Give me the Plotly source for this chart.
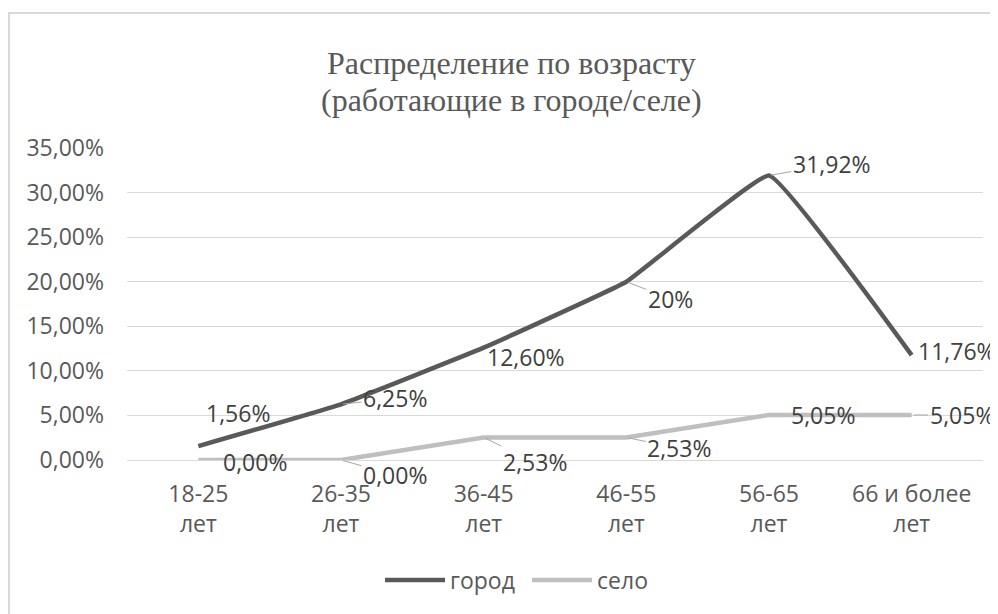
import plotly.graph_objects as go

# ---- data ----
categories = ["18-25 лет", "26-35 лет", "36-45 лет", "46-55 лет", "56-65 лет", "66 и более лет"]
tick_text = ["18-25<br>лет", "26-35<br>лет", "36-45<br>лет", "46-55<br>лет", "56-65<br>лет", "66 и более<br>лет"]
gorod = [0.0156, 0.0625, 0.1260, 0.20, 0.3192, 0.1176]
selo = [0.0, 0.0, 0.0253, 0.0253, 0.0505, 0.0505]
gorod_labels = ["1,56%", "6,25%", "12,60%", "20%", "31,92%", "11,76%"]
selo_labels = ["0,00%", "0,00%", "2,53%", "2,53%", "5,05%", "5,05%"]
y_ticks = [0, 0.05, 0.10, 0.15, 0.20, 0.25, 0.30, 0.35]
title_lines = ["Распределение по возрасту", "(работающие в городе/селе)"]

# ---- label placement (pixel offsets, leader flag) ----
gorod_off = [(40, -33, False), (54, -6, True), (42, 9, False), (44, 17, True), (63, -11, True), (45, -4, False)]
selo_off = [(57, 2, False), (54, 15, True), (51, 25, True), (53, 11, True), (54, 0, False), (50, 0, True)]

DARK = "#595959"
LIGHT = "#bfbfbf"
TXT = "#595959"
SANS = "Open Sans"
FS = 23

fig = go.Figure()
fig.add_trace(go.Scatter(x=categories, y=gorod, name="город", mode="lines",
                         line=dict(color=DARK, width=4.5, shape="spline", smoothing=0.25)))
fig.add_trace(go.Scatter(x=categories, y=selo, name="село", mode="lines",
                         line=dict(color=LIGHT, width=4.5)))

annotations = []
for vals, labels, offs in ((gorod, gorod_labels, gorod_off), (selo, selo_labels, selo_off)):
    for c, v, t, (dx, dy, lead) in zip(categories, vals, labels, offs):
        if lead:
            annotations.append(dict(x=c, y=v, xref="x", yref="y", text=t, showarrow=True,
                                    ax=dx, ay=dy, arrowhead=0, arrowwidth=1, arrowcolor="#a6a6a6",
                                    standoff=2, font=dict(family=SANS, size=FS, color="#404040")))
        else:
            annotations.append(dict(x=c, y=v, xref="x", yref="y", text=t, showarrow=False,
                                    xshift=dx, yshift=-dy, font=dict(family=SANS, size=FS, color="#404040")))

# title as two lines (wider line spacing than a <br>)
for t, yy in zip(title_lines, (1.274, 1.153)):
    annotations.append(dict(x=0.4486, y=yy, xref="paper", yref="paper", text=t, showarrow=False,
                            xanchor="center", yanchor="middle",
                            font=dict(family="Liberation Serif", size=32, color=TXT)))

fig.update_layout(
    width=990, height=606,
    margin=dict(l=119, r=15, t=140, b=152),
    paper_bgcolor="white", plot_bgcolor="white",
    separators=", ",
    xaxis=dict(type="category", range=[-0.5, 5.5], tickmode="array", tickvals=categories,
               ticktext=tick_text, showgrid=False, showline=False, ticks="",
               tickfont=dict(family=SANS, size=FS, color=TXT), ticklabelstandoff=18),
    yaxis=dict(range=[0, 0.35], tickmode="array", tickvals=y_ticks, tickformat=".2%",
               showgrid=True, gridcolor="#d9d9d9", gridwidth=1, zeroline=True,
               zerolinecolor="#d9d9d9", zerolinewidth=1, showline=False, ticks="",
               tickfont=dict(family=SANS, size=FS, color=TXT), ticklabelstandoff=22),
    legend=dict(orientation="h", x=0.2956, xanchor="left", y=-0.385, yanchor="middle",
                font=dict(family=SANS, size=FS, color=TXT),
                entrywidth=72, entrywidthmode="pixels", itemwidth=60),
    annotations=annotations,
    shapes=[dict(type="rect", xref="paper", yref="paper", x0=-0.1379, x1=1.5, y0=-1.0, y1=1.433,
                 line=dict(color="#d9d9d9", width=2), layer="below")],
)

fig.write_html("out.html")
